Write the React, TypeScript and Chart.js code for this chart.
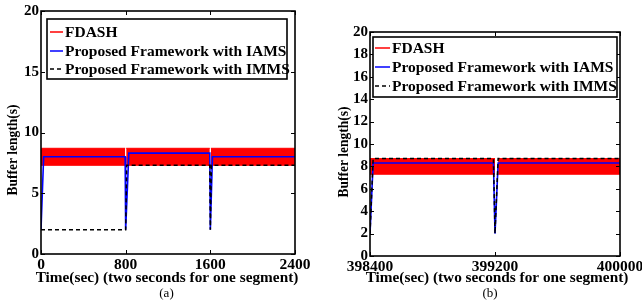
import React, { useEffect, useRef } from "react";
import { Chart, registerables } from "chart.js";

Chart.register(...registerables);

// ---------- DATA ----------
const LEGEND_LABELS = ["FDASH", "Proposed Framework with IAMS", "Proposed Framework with IMMS"];
const X_TITLE = "Time(sec) (two seconds for one segment)";
const Y_TITLE = "Buffer length(s)";

// Panel (a)
const A_X_TICKS = [0, 800, 1600, 2400];
const A_Y_TICKS = [0, 5, 10, 15, 20];
const A_FDASH_TIME = [0, 795, 800, 805, 1595, 1600, 1605, 2400];
const A_FDASH_MAX = [8.7, 8.7, null, 8.7, 8.7, null, 8.7, 8.7];
const A_FDASH_MIN = [7.3, 7.3, null, 7.3, 7.3, null, 7.3, 7.3];
const A_IAMS_TIME = [0, 25, 795, 800, 830, 1595, 1600, 1620, 2400];
const A_IAMS = [2, 8.0, 8.0, 2, 8.3, 8.3, 2, 8.0, 8.0];
const A_IMMS_TIME = [0, 795, 800, 810, 1595, 1600, 1610, 2400];
const A_IMMS = [2, 2, 2, 7.3, 7.3, 2, 7.3, 7.3];

// Panel (b)
const B_X_TICKS = [398400, 399200, 400000];
const B_Y_TICKS = [0, 2, 4, 6, 8, 10, 12, 14, 16, 18, 20];
const B_FDASH_TIME = [398400, 399200, 399210, 399220, 400000];
const B_FDASH_MAX = [8.7, 8.7, null, 8.7, 8.7];
const B_FDASH_MIN = [7.3, 7.3, null, 7.3, 7.3];
const B_LINE_TIME = [398400, 398420, 399190, 399200, 399220, 400000];
const B_IAMS = [2, 8.3, 8.3, 2, 8.3, 8.3];
const B_IMMS = [2, 8.7, 8.7, 2, 8.7, 8.7];

const FONT = "'Liberation Serif', 'Times New Roman', serif";

const pts = (xs: number[], ys: (number | null)[]) => xs.map((x, i) => ({ x, y: ys[i] }));

const decorPlugin = {
  id: "decor",
  afterDatasetsDraw(chart: any, _args: any, opts: any) {
    const { ctx, chartArea: ca } = chart;
    const xs = chart.scales.x;
    const ys = chart.scales.y;
    ctx.save();
    // inward ticks
    ctx.strokeStyle = "#000";
    ctx.lineWidth = 1;
    ctx.beginPath();
    xs.ticks.forEach((t: any) => {
      const px = Math.round(xs.getPixelForValue(t.value)) + 0.5;
      ctx.moveTo(px, ca.bottom);
      ctx.lineTo(px, ca.bottom - 4);
      ctx.moveTo(px, ca.top);
      ctx.lineTo(px, ca.top + 4);
    });
    ys.ticks.forEach((t: any) => {
      const py = Math.round(ys.getPixelForValue(t.value)) + 0.5;
      ctx.moveTo(ca.left, py);
      ctx.lineTo(ca.left + 4, py);
      ctx.moveTo(ca.right, py);
      ctx.lineTo(ca.right - 4, py);
    });
    ctx.stroke();
    // box
    ctx.lineWidth = 1.6;
    ctx.strokeRect(ca.left, ca.top, ca.right - ca.left, ca.bottom - ca.top);

    // legend
    const lg = opts.legend;
    ctx.fillStyle = "#fff";
    ctx.fillRect(lg.x, lg.y, lg.w, lg.h);
    ctx.lineWidth = 1.6;
    ctx.strokeStyle = "#000";
    ctx.strokeRect(lg.x, lg.y, lg.w, lg.h);
    LEGEND_LABELS.forEach((label, i) => {
      const ds = chart.data.datasets.find((d: any) => d.label === label);
      const yy = lg.rows[i];
      ctx.beginPath();
      ctx.strokeStyle = ds.borderColor;
      ctx.lineWidth = 1.5;
      ctx.setLineDash(ds.borderDash || []);
      ctx.moveTo(lg.lineX0, yy);
      ctx.lineTo(lg.lineX1, yy);
      ctx.stroke();
      ctx.setLineDash([]);
      ctx.fillStyle = "#000";
      ctx.font = `bold 15.5px ${FONT}`;
      ctx.textAlign = "left";
      ctx.textBaseline = "middle";
      ctx.fillText(label, lg.textX, yy + 1);
    });

    // axis titles
    ctx.fillStyle = "#000";
    ctx.font = `bold 15.3px ${FONT}`;
    ctx.textAlign = "center";
    ctx.textBaseline = "middle";
    ctx.fillText(X_TITLE, opts.xTitle.x, opts.xTitle.y);
    ctx.save();
    ctx.translate(opts.yTitle.x, opts.yTitle.y);
    ctx.rotate(-Math.PI / 2);
    ctx.scale(0.88, 1);
    ctx.fillText(Y_TITLE, 0, 0);
    ctx.restore();
    ctx.font = `13px ${FONT}`;
    ctx.fillText(opts.sub.text, opts.sub.x, opts.sub.y);
    ctx.restore();
  },
};

function makeConfig(p: any) {
  return {
    type: "line",
    data: {
      datasets: [
        {
          label: LEGEND_LABELS[2],
          data: p.imms,
          borderColor: "#000000",
          borderWidth: 1.5,
          borderDash: [4, 3],
          pointRadius: 0,
          fill: false,
        },
        {
          label: LEGEND_LABELS[1],
          data: p.iams,
          borderColor: "#0000ff",
          borderWidth: 1.6,
          pointRadius: 0,
          fill: false,
        },
        {
          label: LEGEND_LABELS[0],
          data: p.fdashMax,
          borderColor: "#ff0000",
          backgroundColor: "#ff0000",
          borderWidth: 1,
          pointRadius: 0,
          fill: "+1",
        },
        {
          label: "_fdash_min",
          data: p.fdashMin,
          borderColor: "#ff0000",
          borderWidth: 1,
          pointRadius: 0,
          fill: false,
        },
      ],
    },
    options: {
      animation: false,
      responsive: false,
      spanGaps: false,
      layout: { padding: p.padding },
      plugins: {
        legend: { display: false },
        tooltip: { enabled: false },
        decor: p.decor,
      },
      scales: {
        x: {
          type: "linear",
          min: p.xTicks[0],
          max: p.xTicks[p.xTicks.length - 1],
          grid: { display: false, drawTicks: false },
          border: { display: false },
          afterBuildTicks: (s: any) => {
            s.ticks = p.xTicks.map((v: number) => ({ value: v }));
          },
          afterFit: (s: any) => {
            s.height = p.xHeight;
            s.paddingLeft = 0;
            s.paddingRight = 0;
          },
          ticks: {
            color: "#000",
            padding: 2,
            maxRotation: 0,
            autoSkip: false,
            font: { family: FONT, size: 15.5, weight: "bold" },
            callback: (v: any) => String(v),
          },
        },
        y: {
          type: "linear",
          min: p.yTicks[0],
          max: p.yTicks[p.yTicks.length - 1],
          grid: { display: false, drawTicks: false },
          border: { display: false },
          afterBuildTicks: (s: any) => {
            s.ticks = p.yTicks.map((v: number) => ({ value: v }));
          },
          afterFit: (s: any) => {
            s.width = p.yWidth;
            s.paddingTop = 0;
            s.paddingBottom = 0;
          },
          ticks: {
            color: "#000",
            padding: 2,
            autoSkip: false,
            font: { family: FONT, size: 15, weight: "bold" },
            callback: (v: any) => String(v),
          },
        },
      },
    },
    plugins: [decorPlugin],
  } as any;
}

function Panel({ cfg, left, width }: { cfg: any; left: number; width: number }) {
  const ref = useRef<HTMLCanvasElement | null>(null);
  useEffect(() => {
    if (!ref.current) return;
    const chart = new Chart(ref.current, makeConfig(cfg));
    return () => chart.destroy();
  }, []);
  return (
    <canvas
      ref={ref}
      width={width}
      height={303}
      style={{ position: "absolute", left, top: 0, width, height: 303, display: "block" }}
    />
  );
}

const PANEL_A = {
  xTicks: A_X_TICKS,
  yTicks: A_Y_TICKS,
  fdashMax: pts(A_FDASH_TIME, A_FDASH_MAX),
  fdashMin: pts(A_FDASH_TIME, A_FDASH_MIN),
  iams: pts(A_IAMS_TIME, A_IAMS),
  imms: pts(A_IMMS_TIME, A_IMMS),
  padding: { left: 0, top: 11, right: 35, bottom: 0 },
  xHeight: 49,
  yWidth: 41,
  decor: {
    legend: { x: 47, y: 19, w: 240, h: 60, rows: [32, 51, 69], lineX0: 50, lineX1: 63, textX: 65 },
    xTitle: { x: 167, y: 278 },
    yTitle: { x: 13.5, y: 150 },
    sub: { text: "(a)", x: 166.5, y: 294 },
  },
};

const PANEL_B = {
  xTicks: B_X_TICKS,
  yTicks: B_Y_TICKS,
  fdashMax: pts(B_FDASH_TIME, B_FDASH_MAX),
  fdashMin: pts(B_FDASH_TIME, B_FDASH_MIN),
  iams: pts(B_LINE_TIME, B_IAMS),
  imms: pts(B_LINE_TIME, B_IMMS),
  padding: { left: 0, top: 32, right: 22, bottom: 0 },
  xHeight: 47,
  yWidth: 40,
  decor: {
    legend: { x: 43, y: 37, w: 244, h: 60, rows: [48, 67, 86], lineX0: 45, lineX1: 60, textX: 62 },
    xTitle: { x: 167, y: 278 },
    yTitle: { x: 14.5, y: 152 },
    sub: { text: "(b)", x: 160, y: 294 },
  },
};

export default function App() {
  return (
    <div style={{ position: "fixed", left: 0, top: 0, width: 642, height: 303, background: "#fff", overflow: "hidden" }}>
      <Panel cfg={PANEL_A} left={0} width={330} />
      <Panel cfg={PANEL_B} left={330} width={312} />
    </div>
  );
}
